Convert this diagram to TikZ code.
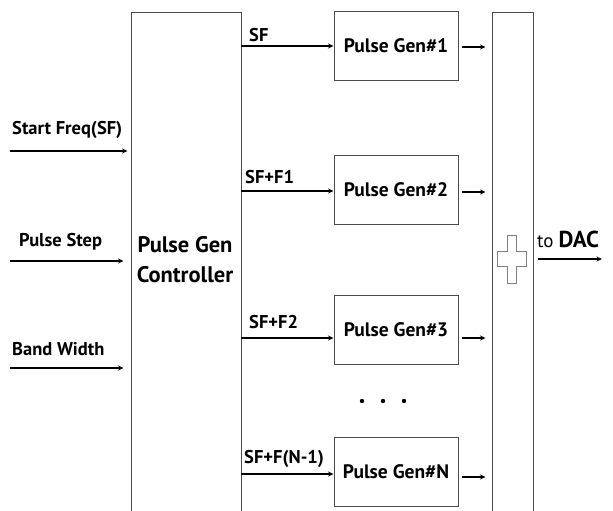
\documentclass[tikz,border=0pt]{standalone}
\usepackage{fontspec}
\setmainfont{PT Sans}
\usetikzlibrary{arrows.meta}
\begin{document}
\begin{tikzpicture}[x=1pt,y=-1pt,
 box/.style={draw=black!70, line width=1pt, fill=white, inner sep=0pt},
 arr/.style={-{Stealth[length=5.5pt,width=5pt]}, line width=1.2pt, black},
 lab/.style={font=\bfseries\fontsize{18.5}{18.5}\selectfont, inner sep=0pt, anchor=base west},
 gen/.style={box, minimum width=124pt, minimum height=69pt, font=\bfseries\fontsize{19.5}{19.5}\selectfont},
]
\useasboundingbox (0,0) rectangle (613,511);
\clip (0,0) rectangle (613,511);
% controller and adder (open at bottom)
\node[box, minimum width=110pt, minimum height=540pt, anchor=north] (ctrl) at (186,12) {};
\node[font=\bfseries\fontsize{22.5}{30}\selectfont, align=center, inner sep=0pt] (ctrltxt) at (185,260) {Pulse Gen\\Controller};
\node[box, minimum width=41pt, minimum height=540pt, anchor=north] (sum) at (512.5,12) {};
% plus sign
\draw[black!50, line width=1pt] (507,235) -- (516,235) -- (516,251) -- (526,251) -- (526,266) -- (516,266) -- (516,283) -- (507,283) -- (507,266) -- (497,266) -- (497,251) -- (507,251) -- cycle;
% generators
\node[gen] (g1) at (396,46) {Pulse Gen\#1};
\node[gen] (g2) at (396,190) {Pulse Gen\#2};
\node[gen] (g3) at (396,330) {Pulse Gen\#3};
\node[gen] (gN) at (396,472) {Pulse Gen\#N};
% inputs
\coordinate (i1) at (10,151);
\coordinate (i2) at (10,261);
\coordinate (i3) at (10,368);
\node[lab] (l1) at (12,134) {Start Freq(SF)};
\node[lab] (l2) at (19,246) {Pulse Step};
\node[lab] (l3) at (12,355) {Band Width};
\draw[arr] (i1) -- ([xshift=-3pt]ctrl.west |- i1);
\draw[arr] (i2) -- ([xshift=-7pt]ctrl.west |- i2);
\draw[arr] (i3) -- ([xshift=-7pt]ctrl.west |- i3);
% controller to generators
\coordinate (c1) at (241,46);
\coordinate (c2) at (241,191);
\coordinate (c3) at (241,338);
\coordinate (cN) at (241,474);
\draw[arr] (c1) -- (g1.west |- c1);
\draw[arr] (c2) -- (g2.west |- c2);
\draw[arr] (c3) -- (g3.west |- c3);
\draw[arr] (cN) -- (gN.west |- cN);
\node[lab] (s1) at (249,42) {SF};
\node[lab] (s2) at (245,183) {SF+F1};
\node[lab] (s3) at (249,328) {SF+F2};
\node[lab] (sN) at (244,463) {SF+F(N-1)};
% generators to adder
\draw[arr] ([xshift=3pt]g1.east |- 0,47) -- ([xshift=-6pt]sum.west |- 0,47);
\draw[arr] ([xshift=3pt]g2.east |- 0,192) -- ([xshift=-6pt]sum.west |- 0,192);
\draw[arr] ([xshift=3pt]g3.east |- 0,338) -- ([xshift=-6pt]sum.west |- 0,338);
\draw[arr] ([xshift=3pt]gN.east |- 0,477) -- ([xshift=-6pt]sum.west |- 0,477);
% dots
\fill (362,401) circle (2.2pt) (383,401) circle (2.2pt) (404,401) circle (2.2pt);
% output
\coordinate (dac) at (602,259);
\draw[arr] ([xshift=4pt]sum.east |- dac) -- (dac);
\node[inner sep=0pt, anchor=base west] (dactxt) at (537,247) {\fontsize{19}{19}\selectfont to \bfseries\fontsize{23}{23}\selectfont DAC};
\end{tikzpicture}
\end{document}
